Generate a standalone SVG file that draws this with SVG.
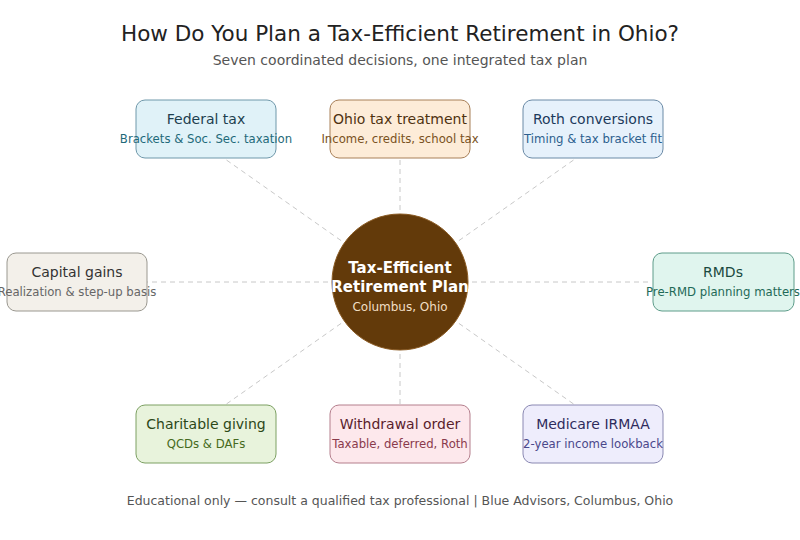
<svg xmlns="http://www.w3.org/2000/svg" width="800" height="540" viewBox="0 0 800 540">
<style>
text{font-family:"DejaVu Sans","Liberation Sans",sans-serif;text-anchor:middle}
.title{font-size:21.5px;fill:#222}
.subtitle{font-size:14px;fill:#555}
.foot{font-size:12.5px;fill:#555}
.bt{font-size:14px}
.bs{font-size:11.7px}
.conn{stroke:#c8c8c8;stroke-width:1;stroke-dasharray:5 4;fill:none}
.box{stroke-width:1}
</style>
<rect width="800" height="540" fill="#ffffff"/>
<text class="title" x="400" y="41">How Do You Plan a Tax-Efficient Retirement in Ohio?</text>
<text class="subtitle" x="400" y="65">Seven coordinated decisions, one integrated tax plan</text>
<g id="connectors">
<line class="conn" x1="400" y1="282" x2="225" y2="159"/>
<line class="conn" x1="400" y1="282" x2="400" y2="158"/>
<line class="conn" x1="400" y1="282" x2="575" y2="159"/>
<line class="conn" x1="400" y1="282" x2="147" y2="282"/>
<line class="conn" x1="400" y1="282" x2="652" y2="282"/>
<line class="conn" x1="400" y1="282" x2="225" y2="405"/>
<line class="conn" x1="400" y1="282" x2="400" y2="405"/>
<line class="conn" x1="400" y1="282" x2="575" y2="405"/>
</g>
<g id="center">
<circle cx="400" cy="282" r="68" fill="#633a0a" stroke="#8a5a22" stroke-width="1"/>
<text x="400" y="273" style="font-size:15px;font-weight:bold;fill:#ffffff">Tax-Efficient</text>
<text x="400" y="292" style="font-size:15px;font-weight:bold;fill:#ffffff">Retirement Plan</text>
<text x="400" y="311" style="font-size:12px;fill:#f2dfc4">Columbus, Ohio</text>
</g>
<g id="federal">
<rect class="box" x="136" y="100" width="140" height="58" rx="9" fill="#e0f2f8" stroke="#6f98aa"/>
<text class="bt" x="206" y="124" fill="#1d3f4f">Federal tax</text>
<text class="bs" x="206" y="143" fill="#1f6a7a">Brackets &amp; Soc. Sec. taxation</text>
</g>
<g id="ohio">
<rect class="box" x="330" y="100" width="140" height="58" rx="9" fill="#fdecd8" stroke="#a88058"/>
<text class="bt" x="400" y="124" fill="#4f3210">Ohio tax treatment</text>
<text class="bs" x="400" y="143" fill="#7a5222">Income, credits, school tax</text>
</g>
<g id="roth">
<rect class="box" x="523" y="100" width="140" height="58" rx="9" fill="#e6f1fb" stroke="#6a8aa6"/>
<text class="bt" x="593" y="124" fill="#1c3a5c">Roth conversions</text>
<text class="bs" x="593" y="143" fill="#2d5f8e">Timing &amp; tax bracket fit</text>
</g>
<g id="capital">
<rect class="box" x="7" y="253" width="140" height="58" rx="9" fill="#f3f0ea" stroke="#9a9890"/>
<text class="bt" x="77" y="277" fill="#333333">Capital gains</text>
<text class="bs" x="77" y="296" fill="#666666">Realization &amp; step-up basis</text>
</g>
<g id="rmds">
<rect class="box" x="653" y="253" width="141" height="58" rx="9" fill="#e0f5ee" stroke="#5e9c8a"/>
<text class="bt" x="723" y="277" fill="#1a4a40">RMDs</text>
<text class="bs" x="723" y="296" fill="#1f6a58">Pre-RMD planning matters</text>
</g>
<g id="charitable">
<rect class="box" x="136" y="405" width="140" height="58" rx="9" fill="#e8f3dc" stroke="#7ca062"/>
<text class="bt" x="206" y="429" fill="#2c4818">Charitable giving</text>
<text class="bs" x="206" y="448" fill="#466a20">QCDs &amp; DAFs</text>
</g>
<g id="withdrawal">
<rect class="box" x="330" y="405" width="140" height="58" rx="9" fill="#fde8ec" stroke="#b47e8c"/>
<text class="bt" x="400" y="429" fill="#5a1e2c">Withdrawal order</text>
<text class="bs" x="400" y="448" fill="#8a3a4c">Taxable, deferred, Roth</text>
</g>
<g id="medicare">
<rect class="box" x="523" y="405" width="140" height="58" rx="9" fill="#eeedfc" stroke="#8a88b2"/>
<text class="bt" x="593" y="429" fill="#2e2c5c">Medicare IRMAA</text>
<text class="bs" x="593" y="448" fill="#4a488a">2-year income lookback</text>
</g>
<text class="foot" x="400" y="505">Educational only — consult a qualified tax professional | Blue Advisors, Columbus, Ohio</text>
</svg>
